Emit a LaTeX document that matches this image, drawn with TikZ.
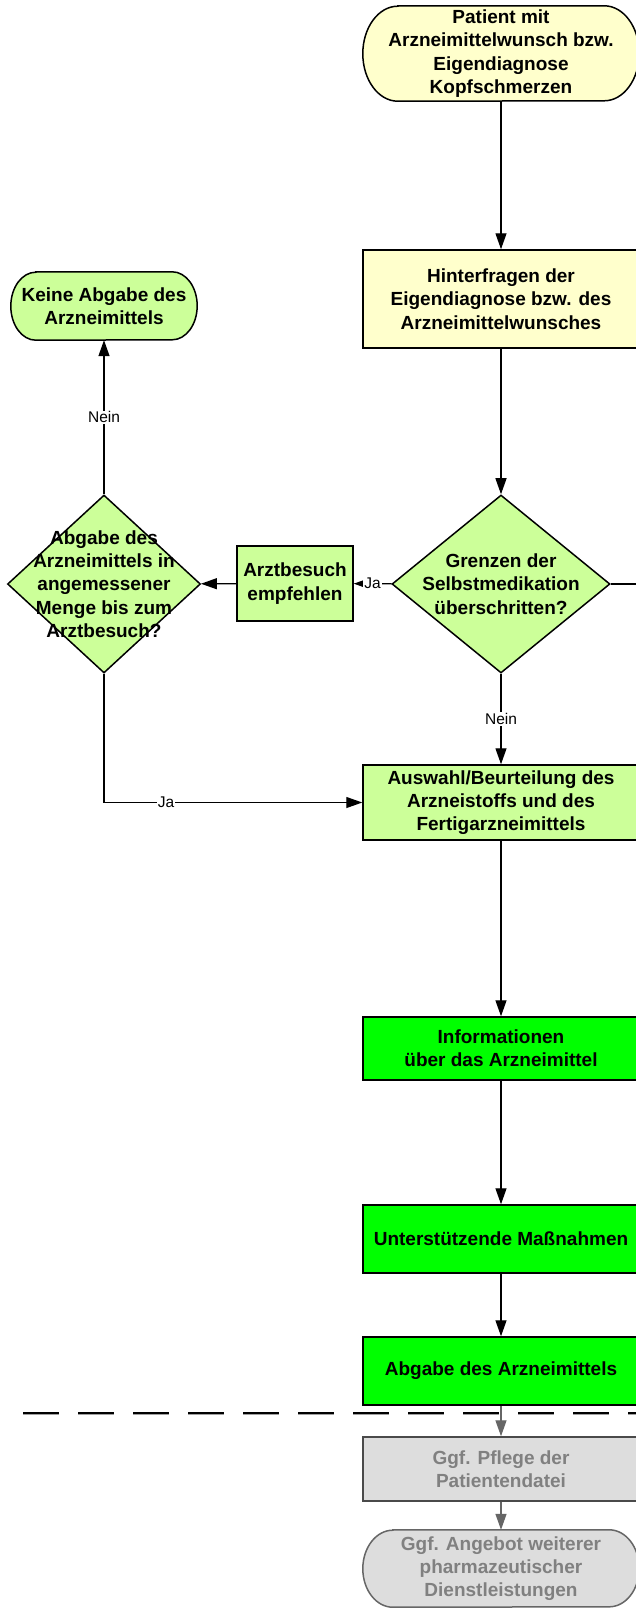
\documentclass[tikz,border=0pt]{standalone}
\usepackage{fontspec}
\setmainfont{Liberation Sans}
\usetikzlibrary{arrows.meta,shapes.geometric,backgrounds}
\definecolor{cyellow}{HTML}{FFFFCC}
\definecolor{clgreen}{HTML}{CCFF99}
\definecolor{cgreen}{HTML}{00FF00}
\definecolor{cgrayfill}{HTML}{DDDDDD}
\definecolor{cgraytext}{HTML}{808080}
\definecolor{cgrayline}{HTML}{666666}
\definecolor{cgrayborder}{HTML}{4A4A4A}
\definecolor{cshadow}{HTML}{A0A0A0}
\tikzset{
  boxtext/.style={font=\fontsize{19pt}{23.3pt}\selectfont\bfseries, align=center, inner sep=0pt},
  procbox/.style={boxtext, draw=black, line width=1.5pt, rectangle, minimum width=276pt},
  termbox/.style={boxtext, rectangle, minimum width=276pt},
  termshape/.style={draw=black, line width=1.5pt},
  decision/.style={diamond, draw=black, line width=1.5pt, inner sep=0pt, fill=clgreen},
  conn/.style={line width=1.3pt, -{Triangle[length=16pt,width=11pt]}},
  grayconn/.style={conn, draw=cgrayline},
  plainline/.style={line width=1.3pt},
  lbl/.style={font=\fontsize{15.5pt}{18pt}\selectfont, fill=white, inner sep=1pt},
  sepline/.style={line width=2pt, dash pattern=on 36pt off 19pt},
}
\begin{document}
\begin{tikzpicture}[x=1pt,y=1pt]
\useasboundingbox (0,0) rectangle (635,-1617);
\begin{scope}[on background layer]
  \fill[white] (0,0) rectangle (635,-1617);
\end{scope}

% nodes
\node[termbox, minimum height=95pt] (start) at (501,-53.5) {Patient mit\\Arzneimittelwunsch bzw.\\Eigendiagnose\\Kopfschmerzen};
\node[procbox, fill=cyellow, minimum height=98pt] (hint) at (501,-299) {Hinterfragen der\\Eigendiagnose bzw. des\\Arzneimittelwunsches};
\node[decision, minimum width=218pt, minimum height=178pt] (grenz) at (501,-584) {};
\node[boxtext] (grenzt) at (grenz.center) {Grenzen der\\Selbstmedikation\\überschritten?};
\node[procbox, fill=clgreen, minimum width=116pt, minimum height=75pt] (arzt) at (295,-583.5) {Arztbesuch\\empfehlen};
\node[decision, minimum width=193pt, minimum height=178pt] (menge) at (104,-584) {};
\node[boxtext] (menget) at (menge.center) {Abgabe des\\Arzneimittels in\\angemessener\\Menge bis zum\\Arztbesuch?};
\node[termbox, minimum width=186pt, minimum height=68pt] (keine) at (104,-306) {Keine Abgabe des\\Arzneimittels};
\node[procbox, fill=clgreen, minimum height=75pt] (ausw) at (501,-802.5) {Auswahl/Beurteilung des\\Arzneistoffs und des\\Fertigarzneimittels};
\node[procbox, fill=cgreen, minimum height=63pt] (info) at (501,-1048.5) {Informationen\\über das Arzneimittel};
\node[procbox, fill=cgreen, minimum height=68pt] (unter) at (501,-1239) {Unterstützende Maßnahmen};
\node[procbox, fill=cgreen, minimum height=68pt] (abg) at (501,-1371) {Abgabe des Arzneimittels};
\node[procbox, fill=cgrayfill, draw=cgrayborder, text=cgraytext, minimum height=64pt] (pfl) at (501,-1469) {Ggf. Pflege der\\Patientendatei};
\node[termbox, text=cgraytext, minimum height=77pt] (dienst) at (501,-1568.5) {Ggf. Angebot weiterer\\pharmazeutischer\\Dienstleistungen};

% terminator shapes
\begin{scope}[on background layer]
  \draw[termshape, fill=cyellow] ([xshift=35pt]start.north west) -- ([xshift=-35pt]start.north east)
    arc[start angle=90, end angle=-90, x radius=35pt, y radius=47.5pt]
    -- ([xshift=35pt]start.south west)
    arc[start angle=270, end angle=90, x radius=35pt, y radius=47.5pt] -- cycle;
  \draw[termshape, fill=clgreen] ([xshift=25pt]keine.north west) -- ([xshift=-25pt]keine.north east)
    arc[start angle=90, end angle=-90, x radius=25pt, y radius=34pt]
    -- ([xshift=25pt]keine.south west)
    arc[start angle=270, end angle=90, x radius=25pt, y radius=34pt] -- cycle;
  \draw[termshape, draw=cgrayline, fill=cgrayfill] ([xshift=30pt]dienst.north west) -- ([xshift=-30pt]dienst.north east)
    arc[start angle=90, end angle=-90, x radius=30pt, y radius=38.5pt]
    -- ([xshift=30pt]dienst.south west)
    arc[start angle=270, end angle=90, x radius=30pt, y radius=38.5pt] -- cycle;
\end{scope}

% connectors
\coordinate (offr) at (660,-584);
\draw[conn] (start) -- (hint);
\draw[conn] (hint) -- (grenz);
\draw[conn] (grenz) -- node[lbl]{Ja} (arzt);
\draw[conn] (arzt) -- (menge);
\draw[conn] (menge) -- node[lbl]{Nein} (keine);
\draw[conn] (grenz) -- node[lbl]{Nein} (ausw);
\draw[conn] (menge.south) |- node[lbl, pos=0.62]{Ja} (ausw.west);
\draw[plainline] (grenz.east) -- (offr);
\draw[conn] (ausw) -- (info);
\draw[conn] (info) -- (unter);
\draw[conn] (unter) -- (abg);
\draw[grayconn] (abg) -- (pfl);
\draw[grayconn] (pfl) -- (dienst);

% separator
\coordinate (dl) at (23,-1413);
\coordinate (dr) at (660,-1413);
\draw[sepline, draw=cshadow] ([yshift=-1.3pt]dl) -- ([yshift=-1.3pt]dr);
\draw[sepline, draw=black] (dl) -- (dr);
\end{tikzpicture}
\end{document}
